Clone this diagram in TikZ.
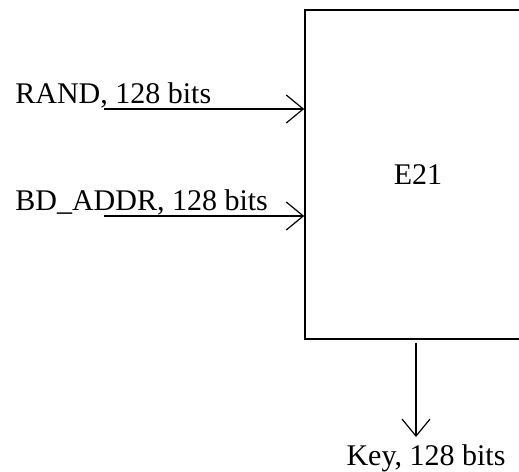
\documentclass[tikz,border=0pt]{standalone}
\usepackage{fontspec}
\setmainfont{Liberation Serif}
\usetikzlibrary{arrows.meta,positioning}

\tikzset{
  sig/.style={line width=0.6pt, -{Straight Barb[length=8.5pt,width=14pt,line width=0.6pt]}},
  lbl/.style={inner sep=0pt, font=\fontsize{15}{18}\selectfont},
}

\begin{document}
\begin{tikzpicture}[x=0.5pt,y=-0.5pt]
        \useasboundingbox (0,0) rectangle (519,471);
        \node[draw, lbl, line width=0.8pt, minimum width=113pt, minimum height=164.5pt] (e21) at (418,174.5) {E21};
        \foreach \y/\name/\txt in {109/rand/{RAND, 128 bits},216/addr/{BD\_ADDR, 128 bits}} {
          \node[lbl, anchor=base west] (\name) at (15,\y-5.5) {\txt};
          \coordinate (\name-in) at (104,\y);
          \draw[sig] (\name-in) -- (\name-in -| e21.west);
        }
        \coordinate (out) at (416,437);
        \draw[sig] ([yshift=-1.5pt]e21.south -| out) -- (out);
        \node[lbl, anchor=base] (key) at (426,465) {Key, 128 bits};
      \end{tikzpicture}
\end{document}
